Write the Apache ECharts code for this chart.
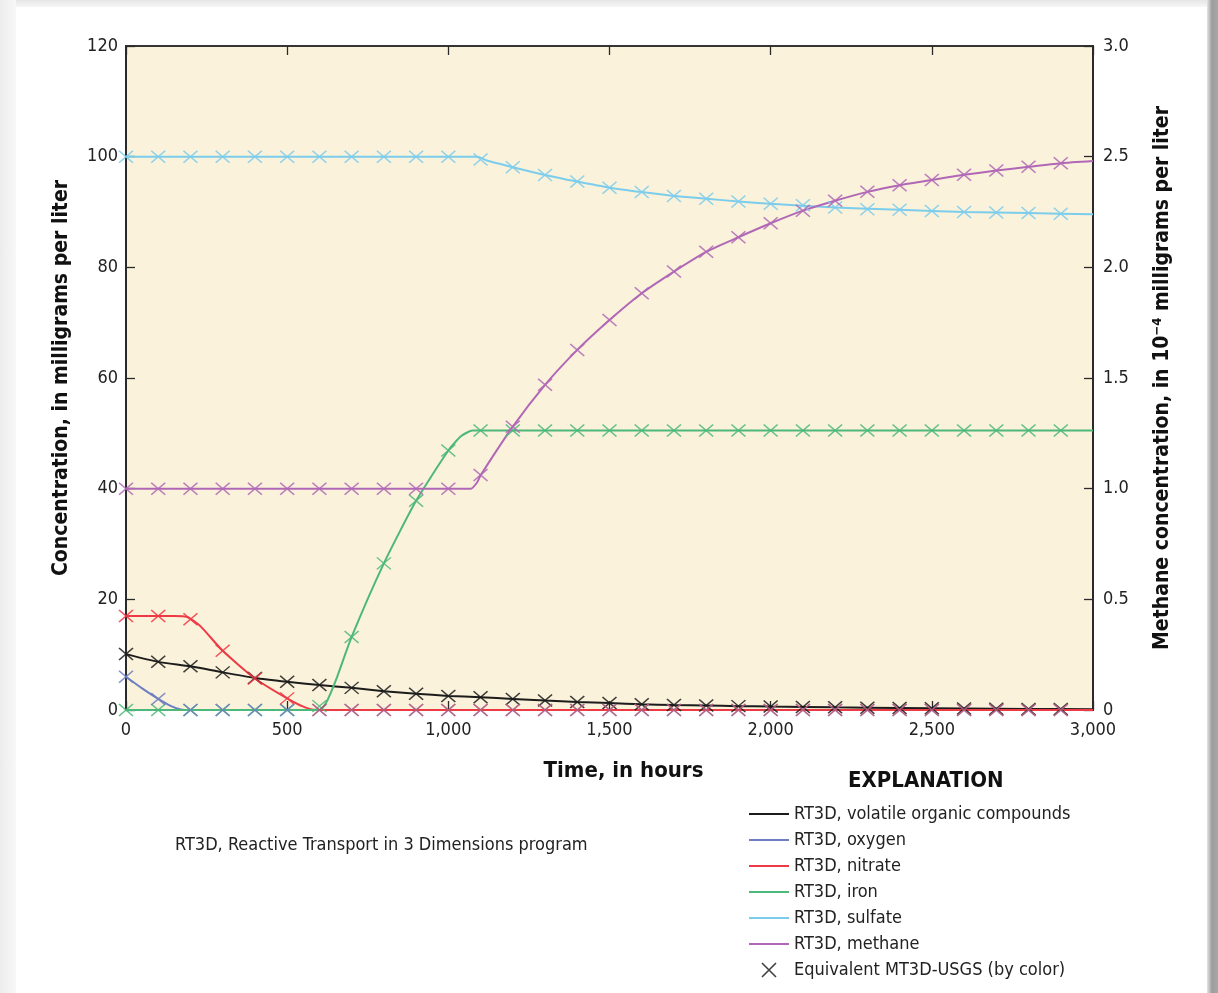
<!DOCTYPE html>
<html>
<head>
<meta charset="utf-8">
<title>RT3D vs MT3D-USGS</title>
<script src="https://cdn.jsdelivr.net/npm/echarts@6/dist/echarts.min.js"></script>
<style>
  html, body { margin: 0; padding: 0; background: #ffffff; }
  .frame-top { position: absolute; left: 0; top: 0; width: 1218px; height: 7px; background: linear-gradient(#e6e6e6, #f6f6f6); }
  .frame-left { position: absolute; left: 0; top: 0; width: 16px; height: 993px; background: linear-gradient(90deg, #ececec, #f8f8f8); }
  .frame-right { position: absolute; left: 1207px; top: 0; width: 11px; height: 993px; background: linear-gradient(90deg, #e4e4e4, #9c9c9c 45%, #a8a8a8); }
  #chart { position: absolute; left: 0; top: 0; width: 1218px; height: 993px; }
</style>
</head>
<body>
<div class="frame-top"></div>
<div class="frame-left"></div>
<div class="frame-right"></div>
<div id="chart"></div>
<script>
// MT3D-USGS points (markers), every 100 hours
var hours = [0,100,200,300,400,500,600,700,800,900,1000,1100,1200,1300,1400,1500,
             1600,1700,1800,1900,2000,2100,2200,2300,2400,2500,2600,2700,2800,2900];
var vocPts = [10.1,8.7,7.9,6.8,5.8,5.1,4.5,4.0,3.4,2.95,2.55,2.3,2.0,1.7,1.45,1.25,
              1.05,0.9,0.8,0.7,0.62,0.55,0.48,0.42,0.37,0.32,0.28,0.24,0.2,0.17];
var oxygenPts = [6.0,2.0,0,0,0,0,0,0,0,0,0,0,0,0,0,0,0,0,0,0,0,0,0,0,0,0,0,0,0,0];
var nitratePts = [17.0,17.0,16.4,10.7,5.7,2.1,0,0,0,0,0,0,0,0,0,0,0,0,0,0,0,0,0,0,0,0,0,0,0,0];
var ironPts = [0,0,0,0,0,0,0.7,13.2,26.5,37.8,46.9,50.5,50.5,50.5,50.5,50.5,50.5,50.5,
               50.5,50.5,50.5,50.5,50.5,50.5,50.5,50.5,50.5,50.5,50.5,50.5];
var sulfatePts = [100,100,100,100,100,100,100,100,100,100,100,99.5,98.1,96.7,95.5,94.4,
                  93.6,92.9,92.4,91.9,91.5,91.2,90.8,90.5,90.4,90.2,90.0,89.9,89.8,89.7];
var methanePts = [1.0,1.0,1.0,1.0,1.0,1.0,1.0,1.0,1.0,1.0,1.0,1.062,1.28,1.469,1.627,1.762,
                  1.883,1.981,2.07,2.136,2.199,2.256,2.301,2.341,2.371,2.395,2.418,2.437,2.454,2.47];

// RT3D curves [hours, value]
var vocLine = [[0,10.1],[100,8.7],[200,7.9],[300,6.8],[400,5.8],[500,5.1],[600,4.5],[700,4.0],
               [800,3.4],[900,2.95],[1000,2.55],[1100,2.3],[1200,2.0],[1300,1.7],[1400,1.45],
               [1500,1.25],[1600,1.05],[1700,0.9],[1800,0.8],[1900,0.7],[2000,0.62],[2200,0.48],
               [2400,0.37],[2600,0.28],[2800,0.2],[3000,0.15]];
var oxygenLine = [[0,6.0],[50,3.9],[100,2.0],[140,0.7],[170,0.1],[200,0],[3000,0]];
var nitrateLine = [[0,17.0],[150,17.0],[190,16.8],[230,15.2],[300,10.7],[400,5.7],[500,2.1],
                   [550,0.6],[590,0],[3000,0]];
var ironLine = [[0,0],[600,0],[620,1.2],[650,5.2],[700,13.2],[800,26.5],[900,37.8],[1000,46.9],
                [1040,49.5],[1075,50.5],[3000,50.5]];
var sulfateLine = [[0,100],[1090,100],[1120,99.3],[1200,98.1],[1300,96.7],[1400,95.5],[1500,94.4],
                   [1600,93.6],[1700,92.9],[1800,92.4],[1900,91.9],[2000,91.5],[2200,90.8],
                   [2400,90.4],[2600,90.0],[2800,89.8],[3000,89.6]];
var methaneLine = [[0,1.0],[1070,1.0],[1090,1.03],[1100,1.06],[1200,1.28],[1300,1.469],[1400,1.627],
                   [1500,1.762],[1600,1.883],[1700,1.981],[1800,2.07],[1900,2.136],[2000,2.199],
                   [2100,2.256],[2200,2.301],[2300,2.341],[2400,2.371],[2500,2.395],[2600,2.418],
                   [2700,2.437],[2800,2.454],[2900,2.47],[3000,2.48]];

var FONT = '"Liberation Sans Narrow", "DejaVu Sans Condensed", "Roboto", sans-serif';
var XMARK = 'path://M0,0L10,10M10,0L0,10';
var BAR = 'path://M0,0L40,0L40,2L0,2Z';

var species = [
  {name: 'RT3D, volatile organic compounds', color: '#1c1c1c', line: vocLine, pts: vocPts, axis: 0},
  {name: 'RT3D, oxygen', color: '#6d7fc2', line: oxygenLine, pts: oxygenPts, axis: 0},
  {name: 'RT3D, nitrate', color: '#ee3a45', line: nitrateLine, pts: nitratePts, axis: 0, zeroFade: true},
  {name: 'RT3D, iron', color: '#4cb879', line: ironLine, pts: ironPts, axis: 0},
  {name: 'RT3D, sulfate', color: '#7ccdec', line: sulfateLine, pts: sulfatePts, axis: 0},
  {name: 'RT3D, methane', color: '#b068b6', line: methaneLine, pts: methanePts, axis: 1}
];

function pairs(s) {
  return s.pts.map(function (v, i) {
    // nitrate crosses sit on top of oxygen at zero; let them blend to purple as in the figure
    if (s.zeroFade && v === 0) return {value: [hours[i], v], itemStyle: {opacity: 0.5}};
    return [hours[i], v];
  });
}

var series = [];
species.forEach(function (s) {
  series.push({
    name: s.name,
    type: 'line',
    yAxisIndex: s.axis,
    data: s.line,
    symbol: 'none',
    smooth: 0.2,
    color: s.color,
    lineStyle: {color: s.color, width: 2},
    z: 2
  });
});
[3, 0, 1, 2, 4, 5].forEach(function (k) {
  var s = species[k];
  series.push({
    name: 'MT3D ' + s.name,
    type: 'scatter',
    yAxisIndex: s.axis,
    data: pairs(s),
    symbol: XMARK,
    symbolSize: [14, 12],
    itemStyle: {color: s.color, borderColor: s.color, borderWidth: 1.5, opacity: 0.85},
    z: 3
  });
});
series.push({
  name: 'Equivalent MT3D-USGS (by color)',
  type: 'scatter',
  data: [],
  symbol: XMARK,
  itemStyle: {color: '#111', borderColor: '#111', borderWidth: 1.6}
});

var tick = {show: true, inside: true, length: 9, lineStyle: {color: '#2a2a2a', width: 1.3}};

var chart = echarts.init(document.getElementById('chart'));
chart.setOption({
  animation: false,
  textStyle: {fontFamily: FONT},
  grid: {
    left: 126, top: 46, width: 967, height: 664,
    show: true, backgroundColor: '#fbf2db', borderColor: '#2a2a2a', borderWidth: 1.5
  },
  xAxis: [{
    type: 'value', min: 0, max: 3000, interval: 500, position: 'bottom',
    name: 'Time, in hours', nameLocation: 'middle', nameGap: 50,
    nameTextStyle: {fontFamily: FONT, fontSize: 22, fontWeight: 'bold', color: '#111', padding: [0, 0, 0, 28]},
    axisLine: {show: true, onZero: false, lineStyle: {color: '#2a2a2a', width: 2}},
    axisTick: tick,
    axisLabel: {fontFamily: FONT, fontSize: 18, color: '#222', margin: 11,
      formatter: function (v) { return v.toLocaleString('en-US'); }},
    splitLine: {show: false}
  }, {
    type: 'value', min: 0, max: 3000, interval: 500, position: 'top',
    axisLine: {show: true, onZero: false, lineStyle: {color: '#2a2a2a', width: 1.5}},
    axisTick: tick,
    axisLabel: {show: false},
    splitLine: {show: false}
  }],
  yAxis: [{
    type: 'value', min: 0, max: 120, interval: 20, position: 'left',
    name: 'Concentration, in milligrams per liter', nameLocation: 'middle', nameGap: 54,
    nameTextStyle: {fontFamily: FONT, fontSize: 21, fontWeight: 'bold', color: '#111'},
    axisLine: {show: true, onZero: false, lineStyle: {color: '#2a2a2a', width: 2}},
    axisTick: tick,
    axisLabel: {fontFamily: FONT, fontSize: 18, color: '#222', margin: 8},
    splitLine: {show: false}
  }, {
    type: 'value', min: 0, max: 3, interval: 0.5, position: 'right',
    name: 'Methane concentration, in 10{sup|\u22124} milligrams per liter',
    nameLocation: 'middle', nameGap: 58,
    nameTextStyle: {fontFamily: FONT, fontSize: 21, fontWeight: 'bold', color: '#111',
      rich: {sup: {fontFamily: FONT, fontSize: 13, fontWeight: 'bold', color: '#111', verticalAlign: 'top', padding: [0, 0, 10, 0]}}},
    axisLine: {show: true, onZero: false, lineStyle: {color: '#2a2a2a', width: 2}},
    axisTick: tick,
    axisLabel: {fontFamily: FONT, fontSize: 18, color: '#222', margin: 10,
      formatter: function (v) { return v === 0 ? '0' : v.toFixed(1); }},
    splitLine: {show: false}
  }],
  legend: {
    orient: 'vertical', left: 744, top: 800,
    itemWidth: 40, itemHeight: 14, itemGap: 8,
    selectedMode: false,
    textStyle: {fontFamily: FONT, fontSize: 18, color: '#222'},
    data: species.map(function (s) { return {name: s.name, icon: BAR}; }).concat([{
      name: 'Equivalent MT3D-USGS (by color)', icon: XMARK,
      itemStyle: {color: '#111', borderColor: '#111', borderWidth: 1.6}
    }])
  },
  graphic: [{
    type: 'text', left: 848, top: 770,
    style: {text: 'EXPLANATION', fontFamily: FONT, fontSize: 22, fontWeight: 'bold', fill: '#111'}
  }, {
    type: 'text', left: 175, top: 836,
    style: {text: 'RT3D, Reactive Transport in 3 Dimensions program', fontFamily: FONT, fontSize: 18, fill: '#222'}
  }],
  series: series
});
</script>
</body>
</html>
